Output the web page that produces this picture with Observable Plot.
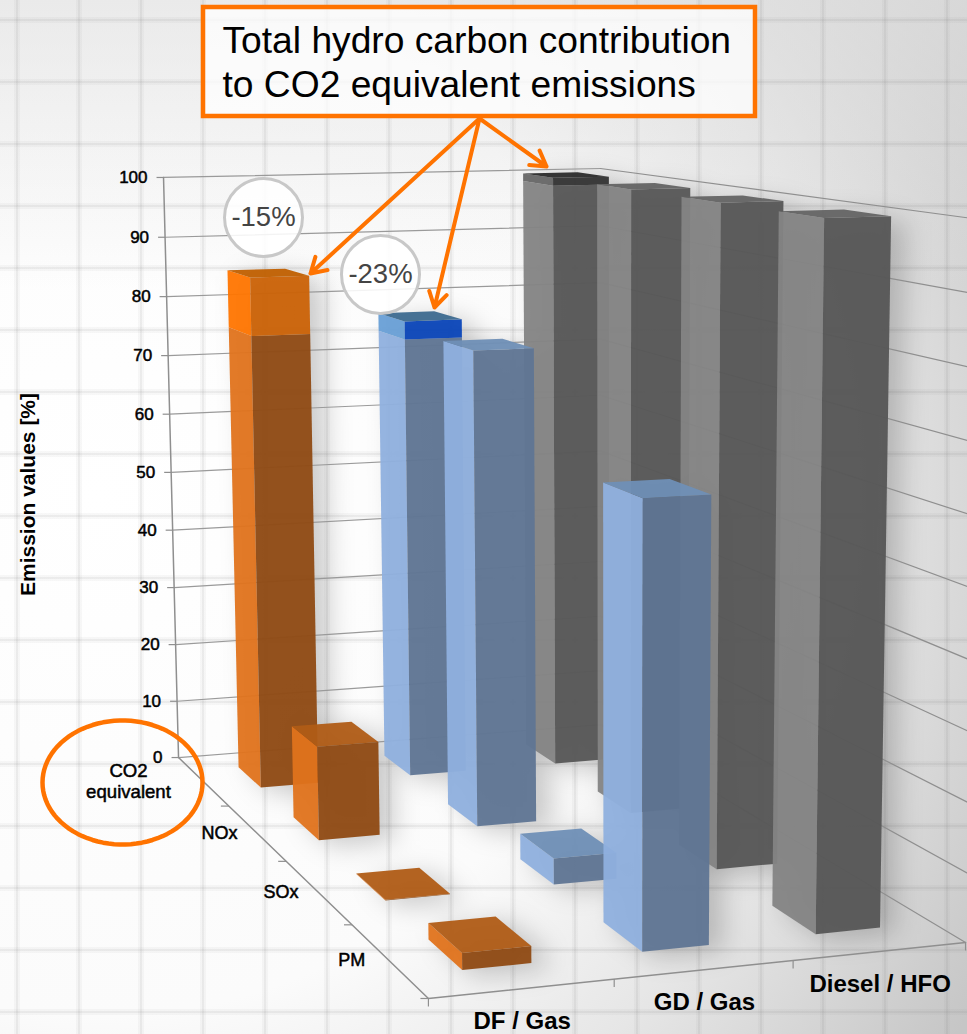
<!DOCTYPE html>
<html>
<head>
<meta charset="utf-8">
<script src="https://cdn.jsdelivr.net/npm/d3@7"></script>
<script src="https://cdn.jsdelivr.net/npm/@observablehq/plot@0.6"></script>
<style>
  html, body { margin: 0; padding: 0; }
  body {
    width: 967px; height: 1034px; overflow: hidden;
    background-color: #fff;
    background-image:
      repeating-linear-gradient(90deg, rgba(110,110,110,0) 0 14px, rgba(110,110,110,.05) 14px 16px, rgba(110,110,110,.13) 16px 18px, rgba(110,110,110,.05) 18px 20px, rgba(110,110,110,0) 20px 62px),
      repeating-linear-gradient(0deg, rgba(110,110,110,0) 0 19px, rgba(110,110,110,.05) 19px 21px, rgba(110,110,110,.13) 21px 23px, rgba(110,110,110,.05) 23px 25px, rgba(110,110,110,0) 25px 62px),
      linear-gradient(180deg, rgba(225,225,225,.65) 0, rgba(225,225,225,0) 28%),
      radial-gradient(ellipse 1020px 1000px at 10% 48%, #ffffff 0%, #fbfbfb 52%, #e6e6e6 74%, #c6c6c6 100%);
  }
  svg { display: block; font-family: "Liberation Sans", Arial, sans-serif; }
</style>
</head>
<body>
<script>
// Emission values in percent of the Diesel / HFO engine
const engines = ["DF / Gas", "GD / Gas", "Diesel / HFO"];
const pollutants = ["CO2 equivalent", "NOx", "SOx", "PM"];
const dfGas = [85, 15, 0.1, 2.4];
const gdGas = [77, 75.8, 4, 63.2];
const dieselHfo = [100, 100, 100, 100];
const values = [dfGas, gdGas, dieselHfo];
// Part of each CO2 equivalent column that comes from unburnt hydro carbons
const hydroCarbon = [9.5, 3, 1.3];
const reductions = ["-15%", "-23%"];
const valueTicks = [0, 10, 20, 30, 40, 50, 60, 70, 80, 90, 100];

const bodyFaces = [
  {side: "#e0731c", front: "#8f4a13", top: "#b05c16"},
  {side: "#8fb0de", front: "#5f7594", top: "#6f8fb6"},
  {side: "#848484", front: "#565656", top: "#646464"}
];
const capFaces = [
  {side: "#ff7500", front: "#cb6206", top: "#c05f00"},
  {side: "#689fd6", front: "#0a44b8", top: "#3d6a8f"},
  {side: "#666666", front: "#333333", top: "#2b2b2b"}
];

// Perspective camera fitted to the corners of the chart box: (s, d, v) -> pixel,
// with s along the engines, d from back to front and v up the value axis.
const corners = [
  [0, 0, 0, 178, 757], [0, 0, 1, 163, 177], [0, 1, 0, 428, 998],
  [1, 1, 0, 965, 942], [1, 1, 1, 980, 219], [1, 0, 1, 600, 168]
];
function solve(A, b) {
  const n = b.length, M = A.map((r, i) => [...r, b[i]]);
  for (let c = 0; c < n; c++) {
    let p = c;
    for (let r = c + 1; r < n; r++) if (Math.abs(M[r][c]) > Math.abs(M[p][c])) p = r;
    [M[c], M[p]] = [M[p], M[c]];
    for (let r = 0; r < n; r++) {
      if (r === c) continue;
      const f = M[r][c] / M[c][c];
      for (let k = c; k <= n; k++) M[r][k] -= f * M[c][k];
    }
  }
  return M.map((r, i) => r[n] / r[i]);
}
const rows = [], rhs = [];
for (const [s, d, v, X, Y] of corners) {
  rows.push([s, d, v, 1, 0, 0, 0, 0, -X * s, -X * d, -X * v]); rhs.push(X);
  rows.push([0, 0, 0, 0, s, d, v, 1, -Y * s, -Y * d, -Y * v]); rhs.push(Y);
}
const AtA = d3.range(11).map(i => d3.range(11).map(j => d3.sum(rows, r => r[i] * r[j])));
const Atb = d3.range(11).map(i => d3.sum(rows, (r, k) => r[i] * rhs[k]));
const m = solve(AtA, Atb);
function project(s, d, v) {
  const w = m[8] * s + m[9] * d + m[10] * v + 1;
  return [(m[0] * s + m[1] * d + m[2] * v + m[3]) / w, (m[4] * s + m[5] * d + m[6] * v + m[7]) / w];
}
const valuePoint = (s, d, value) => project(s, d, value / 100);

// Footprint of a column inside its engine / pollutant cell
const columnWidth = 0.38, columnDepth = 0.42;
const faces = [];
function addColumn(i, j, v0, v1, palette, part, withTop) {
  const s0 = (i + 0.5 - columnWidth / 2) / 3, s1 = (i + 0.5 + columnWidth / 2) / 3;
  const d0 = (j + 0.5 - columnDepth / 2) / 4, d1 = (j + 0.5 + columnDepth / 2) / 4;
  const quad = (name, pts, color) => pts.forEach(p => {
    const [x, y] = valuePoint(p[0], p[1], p[2]);
    faces.push({id: `${i}-${j}-${part}-${name}`, x, y, color});
  });
  quad("side", [[s0, d0, v0], [s0, d1, v0], [s0, d1, v1], [s0, d0, v1]], palette.side);
  quad("front", [[s0, d1, v0], [s1, d1, v0], [s1, d1, v1], [s0, d1, v1]], palette.front);
  if (withTop) quad("top", [[s0, d0, v1], [s1, d0, v1], [s1, d1, v1], [s0, d1, v1]], palette.top);
}
// Furthest engine first so that nearer columns are painted over it
for (const i of [2, 1, 0]) {
  values[i].forEach((value, j) => {
    if (j === 0) {
      addColumn(i, j, 0, value - hydroCarbon[i], bodyFaces[i], "body", false);
      addColumn(i, j, value - hydroCarbon[i], value, capFaces[i], "cap", true);
    } else {
      addColumn(i, j, 0, value, bodyFaces[i], "body", true);
    }
  });
}

const wallBack = valueTicks.flatMap(v => [0, 1].map(s => {
  const [x, y] = valuePoint(s, 0, v);
  return {v, x, y};
}));
const wallRight = valueTicks.flatMap(v => [0, 1].map(d => {
  const [x, y] = valuePoint(1, d, v);
  return {v, x, y};
}));
const pt = (s, d, v) => { const [x, y] = project(s, d, v); return {x, y}; };
const frame = [
  [pt(0, 0, 0), pt(0, 0, 1)],
  [pt(0, 0, 0), pt(0, 1, 0)],
  [pt(0, 1, 0), pt(1, 1, 0)]
].flatMap((seg, k) => seg.map(p => ({...p, k})));

const valueAxis = valueTicks.map(v => { const [x, y] = valuePoint(0, 0, v); return {v, x, y}; });
const depthTicks = d3.range(1, 5).map(j => pt(0, j / 4, 0));
const engineTicks = d3.range(0, 4).map(i => pt(i / 3, 1, 0));
const engineLabels = engines.map((name, i) => ({name, ...pt((i + 0.5) / 3, 1, 0)}));
const pollutantLabels = pollutants.slice(1).map((name, j) => ({name, ...pt(0, (j + 1.5) / 4, 0)}));

// Callout pointing at the hydro carbon caps
const calloutOrigin = {x: 479, y: 118};
const calloutTargets = [{x: 310, y: 273}, {x: 434, y: 307}, {x: 546, y: 166}];
const callout = "#FF7300";

const ringPts = d3.range(0, 360, 4).map(a => ({
  x: 122 + 80 * Math.cos(a * Math.PI / 180),
  y: 782 + 62 * Math.sin(a * Math.PI / 180)
}));

const chart = Plot.plot({
  width: 967, height: 1034,
  margin: 0,
  style: {background: "transparent", fontFamily: '"Liberation Sans", Arial, sans-serif'},
  x: {domain: [0, 967], range: [0, 967], axis: null},
  y: {domain: [0, 1034], range: [0, 1034], axis: null},
  color: {type: "identity"},
  marks: [
    // soft shadows thrown by the columns
    Plot.line(faces, {x: "x", y: "y", z: "id", fill: "#000", fillOpacity: 0.2, stroke: "none", dx: 14, dy: 6, imageFilter: "blur(13px)"}),
    // back wall, right wall and floor edges
    Plot.line(wallBack, {x: "x", y: "y", z: "v", stroke: "#9a9a9a", strokeWidth: 1.2}),
    Plot.line(wallRight, {x: "x", y: "y", z: "v", stroke: "#8f8f8f", strokeWidth: 1.2}),
    Plot.line(frame, {x: "x", y: "y", z: "k", stroke: "#8f8f8f", strokeWidth: 1.5}),
    Plot.link(valueAxis, {x1: d => d.x - 7, y1: "y", x2: "x", y2: "y", stroke: "#8f8f8f", strokeWidth: 1.2}),
    Plot.link(depthTicks, {x1: d => d.x - 8, y1: "y", x2: "x", y2: "y", stroke: "#8f8f8f", strokeWidth: 1.2}),
    Plot.link(engineTicks, {x1: "x", y1: "y", x2: "x", y2: d => d.y + 8, stroke: "#8f8f8f", strokeWidth: 1.2}),
    // columns
    Plot.line(faces, {x: "x", y: "y", z: "id", fill: "color", fillOpacity: 0.95, stroke: "none"}),
    // axis labels
    Plot.text(valueAxis, {x: d => d.x - 16, y: "y", text: d => String(d.v), textAnchor: "end", fontSize: 17, fill: "#000", stroke: "#000", strokeWidth: 0.5}),
    Plot.text(pollutantLabels, {x: d => d.x - 37, y: "y", text: "name", fontSize: 18, fill: "#000", stroke: "#000", strokeWidth: 0.5}),
    Plot.text(["CO2", "equivalent"], {x: [128, 128], y: [771, 792], text: d => d, fontSize: 18.6, fill: "#000", stroke: "#000", strokeWidth: 0.5}),
    Plot.text(engineLabels, {x: "x", y: d => d.y + 33, text: "name", fontSize: 24, fontWeight: "bold", fill: "#000"}),
    Plot.text(["Emission values [%]"], {x: [28], y: [494], text: d => d, rotate: -90, fontSize: 21, fontWeight: "bold", fill: "#000"}),
    // annotations
    Plot.line(ringPts, {x: "x", y: "y", curve: "linear-closed", stroke: callout, strokeWidth: 4.5}),
    Plot.dot(reductions, {x: [263, 380], y: [217, 274], r: 39, fill: "#fff", fillOpacity: 0.88, stroke: "#c8c8c8", strokeWidth: 3}),
    Plot.text(reductions, {x: [263, 380], y: [217, 274], text: d => d, fontSize: 27.5, fill: "#444"}),
    Plot.arrow(calloutTargets, {x1: calloutOrigin.x, y1: calloutOrigin.y, x2: "x", y2: "y", stroke: callout, strokeWidth: 4, headLength: 6.5, headAngle: 62, bend: 0}),
    Plot.rect(["callout"], {x1: [203], x2: [755], y1: [7], y2: [116], fill: "#fff", fillOpacity: 0.75, stroke: callout, strokeWidth: 4.5}),
    Plot.text(["Total hydro carbon contribution", "to CO2 equivalent emissions"], {x: [222, 222], y: [41, 85], text: d => d, textAnchor: "start", fontSize: 37.2, fill: "#000"})
  ]
});
document.body.appendChild(chart);
</script>
</body>
</html>
